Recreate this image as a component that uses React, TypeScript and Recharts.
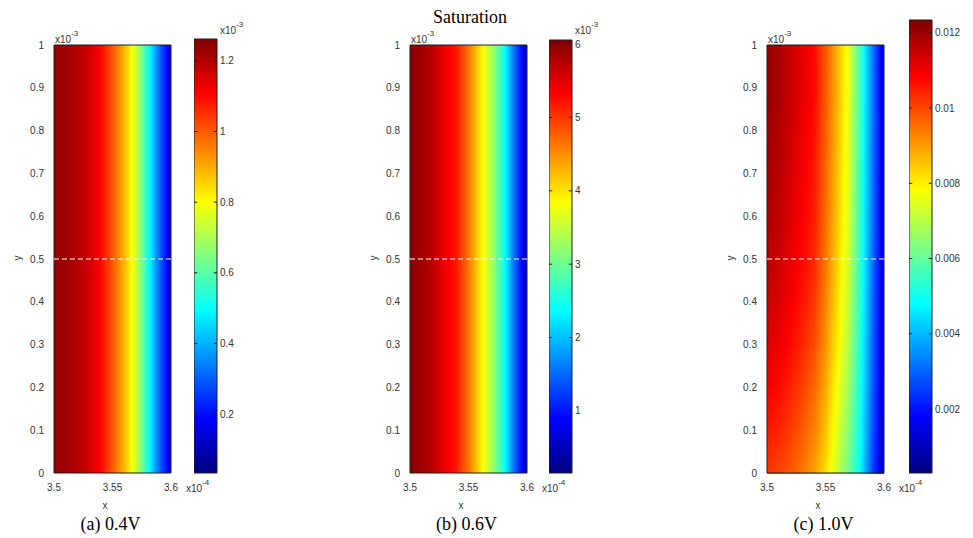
import React from 'react';
import { ComposedChart, XAxis, YAxis, ReferenceArea, ReferenceLine } from 'recharts';

const FONT_SANS = '"Liberation Sans", Arial, Helvetica, sans-serif';
const FONT_SERIF = '"Liberation Serif", "Times New Roman", serif';
const TICK_COLOR = '#333333';
const BORDER = '#1e1e1e';

// ---- axes (x in units of 1e-4, y in units of 1e-3) ----
const X_STOPS = [3.5, 3.51, 3.52, 3.53, 3.54, 3.55, 3.56, 3.57, 3.58, 3.59, 3.6];
const X_TICKS = [3.5, 3.55, 3.6];
const Y_TICKS = [0, 0.1, 0.2, 0.3, 0.4, 0.5, 0.6, 0.7, 0.8, 0.9, 1];
const X_DOMAIN = [3.5, 3.6];
const Y_DOMAIN = [0, 1];
const CUT_Y = 0.5;

// ---- saturation fields (values at X_STOPS) ----
// (a) 0.4V, units 1e-3, uniform in y
const SAT_04V = [1.237, 1.225, 1.201, 1.164, 1.102, 1.004, 0.893, 0.746, 0.525, 0.316, 0.131];
// (b) 0.6V, units 1e-3, uniform in y
const SAT_06V = [6.0, 5.88, 5.7, 5.4, 5.17, 4.64, 3.99, 3.34, 2.51, 1.45, 0.51];
// (c) 1.0V, varies with y (rows at C_ROWS_Y)
const C_ROWS_Y = [0, 0.1, 0.2, 0.3, 0.4, 0.5, 0.6, 0.7, 0.8, 0.9, 1.0];
const SAT_10V_Y00 = [0.01017, 0.01005, 0.00981, 0.00945, 0.00897, 0.00825, 0.00716, 0.00608, 0.00475, 0.00271, 0.00114];
const SAT_10V_Y01 = [0.01056, 0.01041, 0.01015, 0.00979, 0.00933, 0.00856, 0.00748, 0.00637, 0.0049, 0.00283, 0.00117];
const SAT_10V_Y02 = [0.01091, 0.01074, 0.01045, 0.01009, 0.00966, 0.00884, 0.00775, 0.00663, 0.00503, 0.00294, 0.00119];
const SAT_10V_Y03 = [0.01123, 0.01105, 0.01074, 0.01038, 0.00997, 0.00911, 0.00803, 0.00687, 0.00515, 0.00305, 0.00122];
const SAT_10V_Y04 = [0.01149, 0.01128, 0.01096, 0.01059, 0.0102, 0.00931, 0.00822, 0.00707, 0.00525, 0.00312, 0.00123];
const SAT_10V_Y05 = [0.01168, 0.01146, 0.01112, 0.01076, 0.01038, 0.00946, 0.00838, 0.00721, 0.00532, 0.00318, 0.00124];
const SAT_10V_Y06 = [0.01181, 0.01159, 0.01124, 0.01088, 0.01051, 0.00958, 0.0085, 0.00731, 0.00537, 0.00323, 0.00125];
const SAT_10V_Y07 = [0.01191, 0.01168, 0.01133, 0.01097, 0.01059, 0.00966, 0.00857, 0.00738, 0.0054, 0.00325, 0.00125];
const SAT_10V_Y08 = [0.012, 0.01177, 0.01141, 0.01105, 0.01069, 0.00974, 0.00866, 0.00745, 0.00544, 0.00329, 0.00126];
const SAT_10V_Y09 = [0.0121, 0.01186, 0.0115, 0.01114, 0.01077, 0.00981, 0.00873, 0.00752, 0.00548, 0.00331, 0.00126];
const SAT_10V_Y10 = [0.0121, 0.01186, 0.0115, 0.01114, 0.01077, 0.00981, 0.00873, 0.00752, 0.00548, 0.00331, 0.00126];
const SAT_10V_ROWS = [SAT_10V_Y00, SAT_10V_Y01, SAT_10V_Y02, SAT_10V_Y03, SAT_10V_Y04, SAT_10V_Y05, SAT_10V_Y06, SAT_10V_Y07, SAT_10V_Y08, SAT_10V_Y09, SAT_10V_Y10];

// ---- colour bars ----
const CBAR_04V_RANGE = [0.033, 1.262];
const CBAR_04V_TICKS = [0.2, 0.4, 0.6, 0.8, 1, 1.2];
const CBAR_06V_RANGE = [0.154, 6.055];
const CBAR_06V_TICKS = [1, 2, 3, 4, 5, 6];
const CBAR_10V_RANGE = [0.0003, 0.01234];
const CBAR_10V_TICKS = [0.002, 0.004, 0.006, 0.008, 0.01, 0.012];

// ---- texts ----
const TITLE = 'Saturation';
const CAPTIONS = ['(a) 0.4V', '(b) 0.6V', '(c) 1.0V'];

// ---- layout ----
const PLOT_TOP = 45;
const PLOT_H = 428;
const PLOT_W = 117;
const PLOT_LEFTS = [54, 410, 767];
const CBAR_LEFTS = [194, 549, 909];
const CBAR_TOPS = [39, 40, 20];
const CBAR_BOTTOM = 473;
const CBAR_W = 23;

function jet(t: number): string {
  const tt = Math.max(0, Math.min(1, t));
  const c = (v: number) => Math.round(255 * Math.max(0, Math.min(1, v)));
  return `rgb(${c(1.5 - Math.abs(4 * tt - 3))},${c(1.5 - Math.abs(4 * tt - 2))},${c(1.5 - Math.abs(4 * tt - 1))})`;
}

function hStops(vals: number[], range: number[]) {
  const out: { off: number; color: string }[] = [];
  const span = X_DOMAIN[1] - X_DOMAIN[0];
  const sub = 8;
  for (let i = 0; i < vals.length - 1; i++) {
    for (let s = 0; s < sub; s++) {
      const f = s / sub;
      const x = X_STOPS[i] + (X_STOPS[i + 1] - X_STOPS[i]) * f;
      const v = vals[i] + (vals[i + 1] - vals[i]) * f;
      out.push({ off: (x - X_DOMAIN[0]) / span, color: jet((v - range[0]) / (range[1] - range[0])) });
    }
  }
  const last = vals[vals.length - 1];
  out.push({ off: 1, color: jet((last - range[0]) / (range[1] - range[0])) });
  return out;
}

function HGrad({ id, vals, range }: { id: string; vals: number[]; range: number[] }) {
  return (
    <linearGradient id={id} x1="0" y1="0" x2="1" y2="0">
      {hStops(vals, range).map((s, i) => (
        <stop key={i} offset={s.off} stopColor={s.color} />
      ))}
    </linearGradient>
  );
}

function VGrad({ id }: { id: string }) {
  const n = 40;
  const stops = [];
  for (let i = 0; i <= n; i++) {
    stops.push(<stop key={i} offset={i / n} stopColor={jet(1 - i / n)} />);
  }
  return (
    <linearGradient id={id} x1="0" y1="0" x2="0" y2="1">
      {stops}
    </linearGradient>
  );
}

const tickStyle = { fontSize: 10, fill: TICK_COLOR, fontFamily: FONT_SANS };

function panelChart(plotLeft: number, content: React.ReactNode[]) {
  const YW = 40;
  const MT = 5;
  const MR = 20;
  const XH = 30;
  return (
    <div style={{ position: 'absolute', left: plotLeft - YW, top: PLOT_TOP - MT }}>
      <ComposedChart
        width={YW + PLOT_W + MR}
        height={MT + PLOT_H + XH}
        margin={{ top: MT, right: MR, bottom: 0, left: 0 }}
      >
        <XAxis
          type="number"
          dataKey="x"
          domain={X_DOMAIN}
          ticks={X_TICKS}
          interval={0}
          allowDataOverflow
          height={XH}
          axisLine={false}
          tickLine={false}
          tickSize={0}
          tickMargin={11}
          tick={tickStyle}
          tickFormatter={(v: number) => String(v)}
        />
        <YAxis
          type="number"
          dataKey="y"
          domain={Y_DOMAIN}
          ticks={Y_TICKS}
          interval={0}
          allowDataOverflow
          width={YW}
          axisLine={false}
          tickLine={false}
          tickSize={0}
          tickMargin={10}
          tick={tickStyle}
          tickFormatter={(v: number) => String(v)}
        />
        {content}
        <ReferenceLine
          segment={[
            { x: X_DOMAIN[0], y: CUT_Y },
            { x: X_DOMAIN[1], y: CUT_Y },
          ]}
          stroke="#ffffff"
          strokeWidth={1}
          strokeDasharray="5 3"
        />
        <ReferenceArea
          x1={X_DOMAIN[0]}
          x2={X_DOMAIN[1]}
          y1={Y_DOMAIN[0]}
          y2={Y_DOMAIN[1]}
          fill="none"
          stroke={BORDER}
          strokeWidth={1}
        />
      </ComposedChart>
    </div>
  );
}

function colorBar(i: number, range: number[], ticks: number[], gradId: string) {
  const MT = 5;
  const MB = 5;
  const YW = 50;
  const top = CBAR_TOPS[i];
  const h = CBAR_BOTTOM - top;
  const marks: React.ReactNode[] = [];
  ticks.forEach((t, k) => {
    marks.push(
      <ReferenceLine key={`l${k}`} segment={[{ x: 0, y: t }, { x: 0.14, y: t }]} stroke={BORDER} strokeWidth={1} />
    );
    marks.push(
      <ReferenceLine key={`r${k}`} segment={[{ x: 0.86, y: t }, { x: 1, y: t }]} stroke={BORDER} strokeWidth={1} />
    );
  });
  return (
    <div style={{ position: 'absolute', left: CBAR_LEFTS[i], top: top - MT }}>
      <ComposedChart width={CBAR_W + YW} height={h + MT + MB} margin={{ top: MT, right: 0, bottom: MB, left: 0 }}>
        <XAxis type="number" dataKey="x" domain={[0, 1]} hide allowDataOverflow />
        <YAxis
          type="number"
          dataKey="y"
          orientation="right"
          domain={range}
          ticks={ticks}
          interval={0}
          allowDataOverflow
          width={YW}
          axisLine={false}
          tickLine={false}
          tickSize={0}
          tickMargin={3}
          tick={tickStyle}
          tickFormatter={(v: number) => String(v)}
        />
        <ReferenceArea
          x1={0}
          x2={1}
          y1={range[0]}
          y2={range[1]}
          fill={`url(#${gradId})`}
          fillOpacity={1}
          stroke={BORDER}
          strokeWidth={1}
        />
        {marks}
      </ComposedChart>
    </div>
  );
}

function makeStrip(lowId: string, highId: string) {
  return (props: any) => {
    const { x, y, width, height } = props;
    return (
      <g>
        <rect x={x} y={y} width={width} height={height + 0.8} fill={`url(#${lowId})`} />
        <rect x={x} y={y} width={width} height={height + 0.8} fill={`url(#${highId})`} mask="url(#fadeMask)" />
      </g>
    );
  };
}

function Exp({ x, y, base, exp }: { x: number; y: number; base: string; exp: string }) {
  return (
    <text x={x} y={y} fontSize={10} fill={TICK_COLOR} fontFamily={FONT_SANS}>
      {base}
      <tspan fontSize={8} dy={-7}>
        {exp}
      </tspan>
    </text>
  );
}

export default function App() {
  const contentA = [
    <ReferenceArea
      key="a"
      x1={X_DOMAIN[0]}
      x2={X_DOMAIN[1]}
      y1={Y_DOMAIN[0]}
      y2={Y_DOMAIN[1]}
      fill="url(#gradA)"
      fillOpacity={1}
      stroke="none"
    />,
  ];
  const contentB = [
    <ReferenceArea
      key="b"
      x1={X_DOMAIN[0]}
      x2={X_DOMAIN[1]}
      y1={Y_DOMAIN[0]}
      y2={Y_DOMAIN[1]}
      fill="url(#gradB)"
      fillOpacity={1}
      stroke="none"
    />,
  ];
  const contentC: React.ReactNode[] = [];
  for (let k = 0; k < C_ROWS_Y.length - 1; k++) {
    contentC.push(
      <ReferenceArea
        key={`c${k}`}
        x1={X_DOMAIN[0]}
        x2={X_DOMAIN[1]}
        y1={C_ROWS_Y[k]}
        y2={C_ROWS_Y[k + 1]}
        fillOpacity={1}
        stroke="none"
        shape={makeStrip(`gradC${k}`, `gradC${k + 1}`)}
      />
    );
  }

  return (
    <div
      style={{
        position: 'absolute',
        left: 0,
        top: 0,
        width: 973,
        height: 538,
        background: '#ffffff',
        overflow: 'hidden',
      }}
    >
      <svg width={0} height={0} style={{ position: 'absolute' }}>
        <defs>
          <HGrad id="gradA" vals={SAT_04V} range={CBAR_04V_RANGE} />
          <HGrad id="gradB" vals={SAT_06V} range={CBAR_06V_RANGE} />
          {SAT_10V_ROWS.map((row, k) => (
            <HGrad key={k} id={`gradC${k}`} vals={row} range={CBAR_10V_RANGE} />
          ))}
          <VGrad id="cbarGrad" />
          <linearGradient id="fadeGrad" x1="0" y1="0" x2="0" y2="1">
            <stop offset="0" stopColor="#ffffff" />
            <stop offset="1" stopColor="#000000" />
          </linearGradient>
          <mask id="fadeMask" maskUnits="objectBoundingBox" maskContentUnits="objectBoundingBox" x="0" y="0" width="1" height="1">
            <rect x="0" y="0" width="1" height="1" fill="url(#fadeGrad)" />
          </mask>
        </defs>
      </svg>

      {panelChart(PLOT_LEFTS[0], contentA)}
      {panelChart(PLOT_LEFTS[1], contentB)}
      {panelChart(PLOT_LEFTS[2], contentC)}

      {colorBar(0, CBAR_04V_RANGE, CBAR_04V_TICKS, 'cbarGrad')}
      {colorBar(1, CBAR_06V_RANGE, CBAR_06V_TICKS, 'cbarGrad')}
      {colorBar(2, CBAR_10V_RANGE, CBAR_10V_TICKS, 'cbarGrad')}

      <svg width={973} height={538} style={{ position: 'absolute', left: 0, top: 0, pointerEvents: 'none' }}>
        <text x={470} y={23} textAnchor="middle" fontSize={18} fontFamily={FONT_SERIF} fill="#000">
          {TITLE}
        </text>
        {PLOT_LEFTS.map((pl, i) => (
          <g key={i}>
            <Exp x={pl + 1} y={43} base="x10" exp="-3" />
            <Exp x={pl + PLOT_W + 15} y={492} base="x10" exp="-4" />
            <text x={pl + 51} y={509} textAnchor="middle" fontSize={10} fontFamily={FONT_SANS} fill={TICK_COLOR}>
              x
            </text>
            <text
              x={pl - 36}
              y={258}
              textAnchor="middle"
              fontSize={10}
              fontFamily={FONT_SANS}
              fill={TICK_COLOR}
              transform={`rotate(-90 ${pl - 36} 258)`}
              dominantBaseline="middle"
            >
              y
            </text>
            <text x={pl + PLOT_W / 2 - 2} y={530} textAnchor="middle" fontSize={18} fontFamily={FONT_SERIF} fill="#000">
              {CAPTIONS[i]}
            </text>
          </g>
        ))}
        <Exp x={CBAR_LEFTS[0] + CBAR_W + 3} y={34} base="x10" exp="-3" />
        <Exp x={CBAR_LEFTS[1] + CBAR_W + 3} y={34} base="x10" exp="-3" />
      </svg>
    </div>
  );
}
